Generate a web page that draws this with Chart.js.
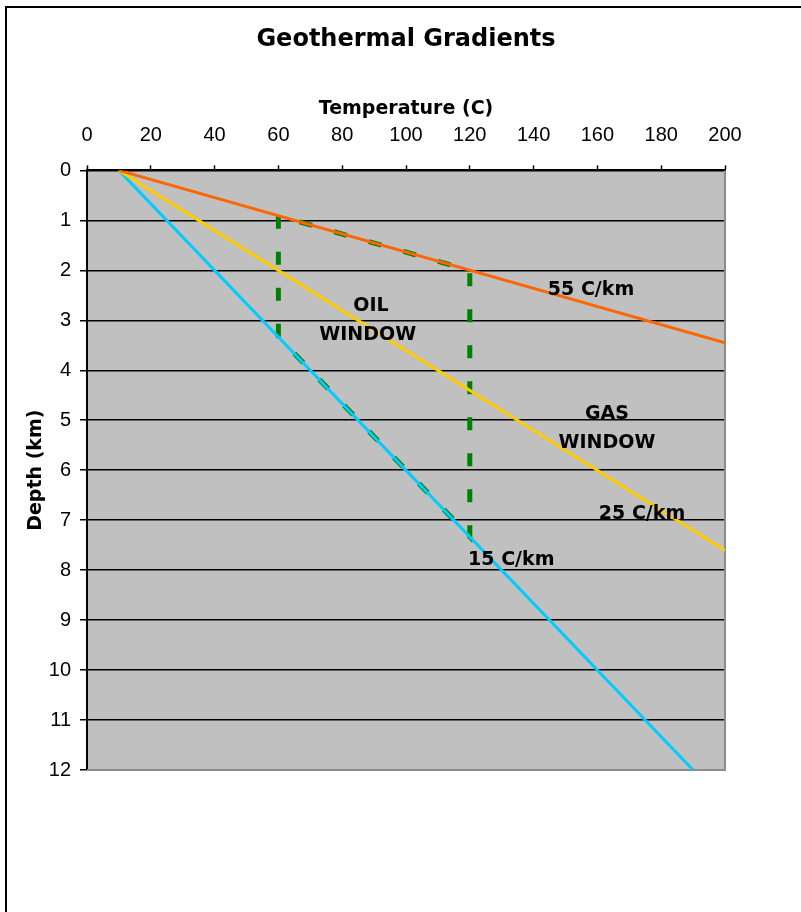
<!DOCTYPE html>
<html>
<head>
<meta charset="utf-8">
<script src="https://cdn.jsdelivr.net/npm/chart.js@4"></script>
<style>
  body { margin: 0; background: #fff; }
  #wrap { width: 801px; height: 912px; position: relative; }
</style>
</head>
<body>
<div id="wrap"><canvas id="chart"></canvas></div>
<script>
// gradient lines, surface temperature 10 C
const temp55 = [10, 200];
const depth55 = [0, 3.45];
const temp25 = [10, 200];
const depth25 = [0, 7.6];
const temp15 = [10, 190];
const depth15 = [0, 12];

// oil window outline
const oilTemp = [60, 60, 120, 120, 60];
const oilDepth = [0.91, 3.33, 7.33, 2, 0.91];

// text notes on the plot
const noteText = ["55 C/km", "OIL", "WINDOW", "GAS", "WINDOW", "25 C/km", "15 C/km"];
const noteTemp = [158, 89, 88, 163, 163, 174, 133];
const noteDepth = [2.4, 2.72, 3.3, 4.88, 5.46, 6.88, 7.8];

const pts = (xs, ys) => xs.map((x, i) => ({ x: x, y: ys[i] }));

const frame = {
  id: "frame",
  beforeDraw(chart) {
    const { ctx, chartArea: a } = chart;
    ctx.save();
    ctx.fillStyle = "#fff";
    ctx.fillRect(0, 0, chart.width, chart.height);
    ctx.fillStyle = "#000";
    ctx.fillRect(5, 6, 2, chart.height - 6);
    ctx.fillRect(5, 6, chart.width - 5, 2);
    ctx.fillStyle = "#c0c0c0";
    ctx.fillRect(a.left, a.top, a.right - a.left, a.bottom - a.top);
    ctx.restore();
  },
  beforeDatasetsDraw(chart) {
    const { ctx, chartArea: a } = chart;
    ctx.save();
    ctx.strokeStyle = "#8c8c8c";
    ctx.lineWidth = 2;
    ctx.beginPath();
    ctx.moveTo(a.left, a.bottom);
    ctx.lineTo(a.right, a.bottom);
    ctx.lineTo(a.right, a.top);
    ctx.stroke();
    ctx.restore();
  },
  afterDatasetsDraw(chart) {
    const { ctx, scales } = chart;
    ctx.save();
    ctx.fillStyle = "#000";
    ctx.font = "bold 19px 'DejaVu Sans'";
    ctx.textAlign = "center";
    ctx.textBaseline = "middle";
    noteText.forEach((t, i) => {
      ctx.fillText(t, scales.x.getPixelForValue(noteTemp[i]), scales.y.getPixelForValue(noteDepth[i]));
    });
    ctx.restore();
  }
};

const tickFont = { family: "'Liberation Sans', Arial", size: 20 };
const boldFont = { family: "'DejaVu Sans'", size: 19, weight: "bold" };

new Chart(document.getElementById("chart"), {
  type: "scatter",
  data: {
    datasets: [
      { data: pts(temp55, depth55), showLine: true, borderColor: "#ff6600", borderWidth: 3, pointRadius: 0 },
      { data: pts(temp25, depth25), showLine: true, borderColor: "#ffcc00", borderWidth: 3, pointRadius: 0 },
      { data: pts(temp15, depth15), showLine: true, borderColor: "#00ccff", borderWidth: 3, pointRadius: 0 },
      { data: pts(oilTemp, oilDepth), showLine: true, borderColor: "#008000", borderWidth: 5,
        borderDash: [13, 23], borderCapStyle: "butt", pointRadius: 0 }
    ]
  },
  options: {
    responsive: true,
    maintainAspectRatio: false,
    animation: false,
    layout: { padding: { left: 0, right: 76, top: 0, bottom: 142 } },
    plugins: {
      legend: { display: false },
      tooltip: { enabled: false },
      title: {
        display: true,
        fullSize: false,
        text: "Geothermal Gradients",
        color: "#000",
        font: { family: "'DejaVu Sans'", size: 24, weight: "bold" },
        padding: { top: 25, bottom: 10.6 }
      }
    },
    scales: {
      x: {
        type: "linear",
        position: "top",
        min: 0,
        max: 200,
        afterFit: s => { s.height = 106; },
        ticks: { stepSize: 20, color: "#000", font: tickFont, padding: 18, maxRotation: 0 },
        grid: { drawOnChartArea: false, tickLength: 5, tickColor: "#000", tickWidth: 1.5 },
        border: { color: "#000", width: 2 },
        title: { display: true, text: "Temperature (C)", color: "#000", font: boldFont, padding: { top: 33, bottom: 0 } }
      },
      y: {
        type: "linear",
        reverse: true,
        min: 0,
        max: 12,
        afterFit: s => { s.width = 87; },
        ticks: { stepSize: 1, color: "#000", font: tickFont, padding: 9 },
        grid: {
          color: c => (c.tick && c.tick.value === 12 ? "#8c8c8c" : "#000"),
          lineWidth: 1.5,
          tickLength: 7,
          tickColor: "#000"
        },
        border: { color: "#000", width: 2 },
        title: { display: true, text: "Depth (km)", color: "#000", font: boldFont, padding: { top: 25, bottom: 0 } }
      }
    }
  },
  plugins: [frame]
});
</script>
</body>
</html>
